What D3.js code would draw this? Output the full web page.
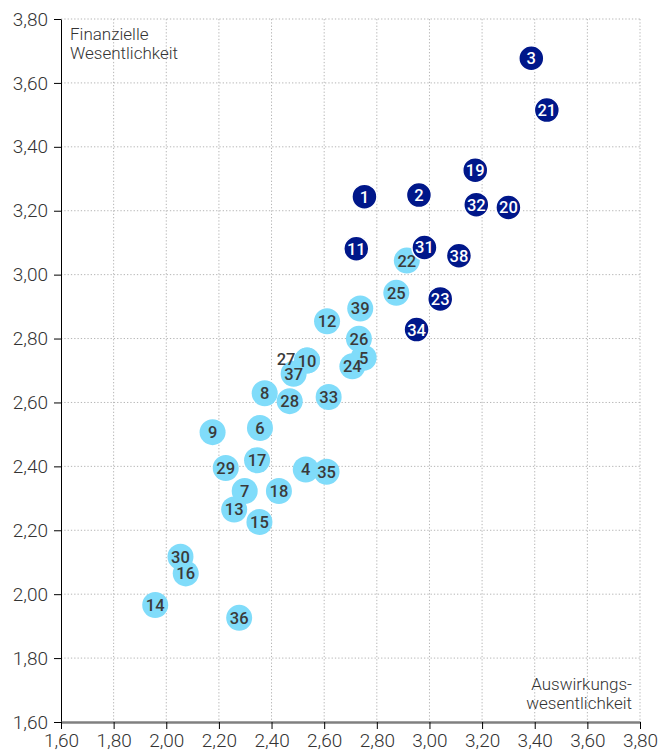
<!DOCTYPE html>
<html><head><meta charset="utf-8">
<script src="https://cdn.jsdelivr.net/npm/d3@7"></script>
<style>body{margin:0;background:#fff}svg{display:block}text{font-family:Roboto,"Noto Sans",sans-serif}</style>
</head><body><svg id="c" width="659" height="755"></svg>
<script>
const ids    = [1,2,3,4,5,6,7,8,9,10,11,12,13,14,15,16,17,18,19,20,21,22,23,24,25,26,27,28,29,30,31,32,33,34,35,36,37,38,39];
const xVals  = [2.753,2.960,3.387,2.530,2.750,2.356,2.298,2.374,2.176,2.535,2.722,2.611,2.258,1.958,2.354,2.074,2.345,2.428,3.174,3.300,3.446,2.914,3.041,2.707,2.874,2.732,2.535,2.469,2.226,2.054,2.981,3.178,2.617,2.951,2.609,2.277,2.484,3.112,2.737];
const yVals  = [3.244,3.249,3.677,2.390,2.740,2.520,2.323,2.629,2.507,2.731,3.081,2.854,2.265,1.966,2.226,2.065,2.419,2.323,3.327,3.210,3.515,3.044,2.924,2.713,2.943,2.799,2.731,2.604,2.395,2.117,3.085,3.219,2.617,2.828,2.383,1.926,2.690,3.059,2.894];
const darkIds = [1,2,3,11,19,20,21,23,31,32,34,38];
const tickVals = [1.6,1.8,2.0,2.2,2.4,2.6,2.8,3.0,3.2,3.4,3.6,3.8];
const yTitle = ["Finanzielle","Wesentlichkeit"];
const xTitle = ["Auswirkungs-","wesentlichkeit"];

const svg = d3.select("#c");
const x = d3.scaleLinear().domain([1.6,3.8]).range([61,640]);
const y = d3.scaleLinear().domain([1.6,3.8]).range([722,19]);
const fmt = d => d3.format(".2f")(d).replace(".", ",");

// grid
const g = svg.append("g");
g.selectAll("line.v").data(tickVals.slice(1)).join("line")
  .attr("x1",d=>x(d)).attr("x2",d=>x(d)).attr("y1",y(3.8)).attr("y2",y(1.6))
  .attr("stroke","#b5b5b5").attr("stroke-width",1).attr("stroke-dasharray","1.3,2");
g.selectAll("line.h").data(tickVals.slice(1)).join("line")
  .attr("x1",x(1.6)).attr("x2",x(3.8)).attr("y1",d=>y(d)).attr("y2",d=>y(d))
  .attr("stroke","#b5b5b5").attr("stroke-width",1).attr("stroke-dasharray","1.3,2");

// axes
const yAxis = svg.append("g").attr("transform",`translate(${x(1.6)},0)`)
  .call(d3.axisLeft(y).tickValues(tickVals).tickFormat(fmt).tickSize(7).tickSizeOuter(0));
yAxis.select(".domain").attr("stroke","#000");
yAxis.selectAll(".tick line").attr("stroke","#000");
yAxis.selectAll(".tick text").attr("font-size",19).attr("font-weight",300).attr("fill","#333").attr("x",-13);

const xAxis = svg.append("g").attr("transform",`translate(0,${y(1.6)})`)
  .call(d3.axisBottom(x).tickValues(tickVals).tickFormat(fmt).tickSize(7).tickSizeOuter(0));
xAxis.select(".domain").attr("stroke","#808080").attr("stroke-width",2.5);
xAxis.selectAll(".tick line").attr("stroke","#000");
xAxis.selectAll(".tick text").attr("font-size",19).attr("font-weight",300).attr("fill","#333").attr("y",12);

// axis titles
svg.append("text").attr("x",70).attr("y",40).attr("font-size",17).attr("font-weight",300).attr("fill","#333")
  .selectAll("tspan").data(yTitle).join("tspan").attr("x",70).attr("dy",(d,i)=>i?19:0).text(d=>d);
svg.append("text").attr("x",632).attr("y",690).attr("font-size",17).attr("font-weight",300).attr("fill","#333").attr("text-anchor","end")
  .selectAll("tspan").data(xTitle).join("tspan").attr("x",632).attr("dy",(d,i)=>i?19:0).text(d=>d);

// points
const pts = ids.map((id,i)=>({id, x:xVals[i], y:yVals[i], dark:darkIds.includes(id)}));
const light = pts.filter(p=>!p.dark), dark = pts.filter(p=>p.dark);
function drawSeries(data, fill, stroke, textFill){
  const gg = svg.append("g");
  gg.selectAll("circle").data(data).join("circle")
    .attr("cx",d=>x(d.x)).attr("cy",d=>y(d.y)).attr("r",stroke?12.5:13)
    .attr("fill",fill).attr("stroke",stroke||"none").attr("stroke-width",1.5);
  gg.selectAll("text").data(data).join("text").text(d=>d.id)
    .attr("x",d=>x(d.x)+(d.id===27?-21:0)).attr("y",d=>y(d.y)+(d.id===27?-2:0))
    .attr("text-anchor","middle").attr("dy","0.36em")
    .attr("font-size",16.5).attr("font-weight",500).attr("fill",textFill);
}
drawSeries(light,"#80dcfa",null,"#3a3a3a");
drawSeries(dark,"#00178a","#fff","#fff");
</script></body></html>
